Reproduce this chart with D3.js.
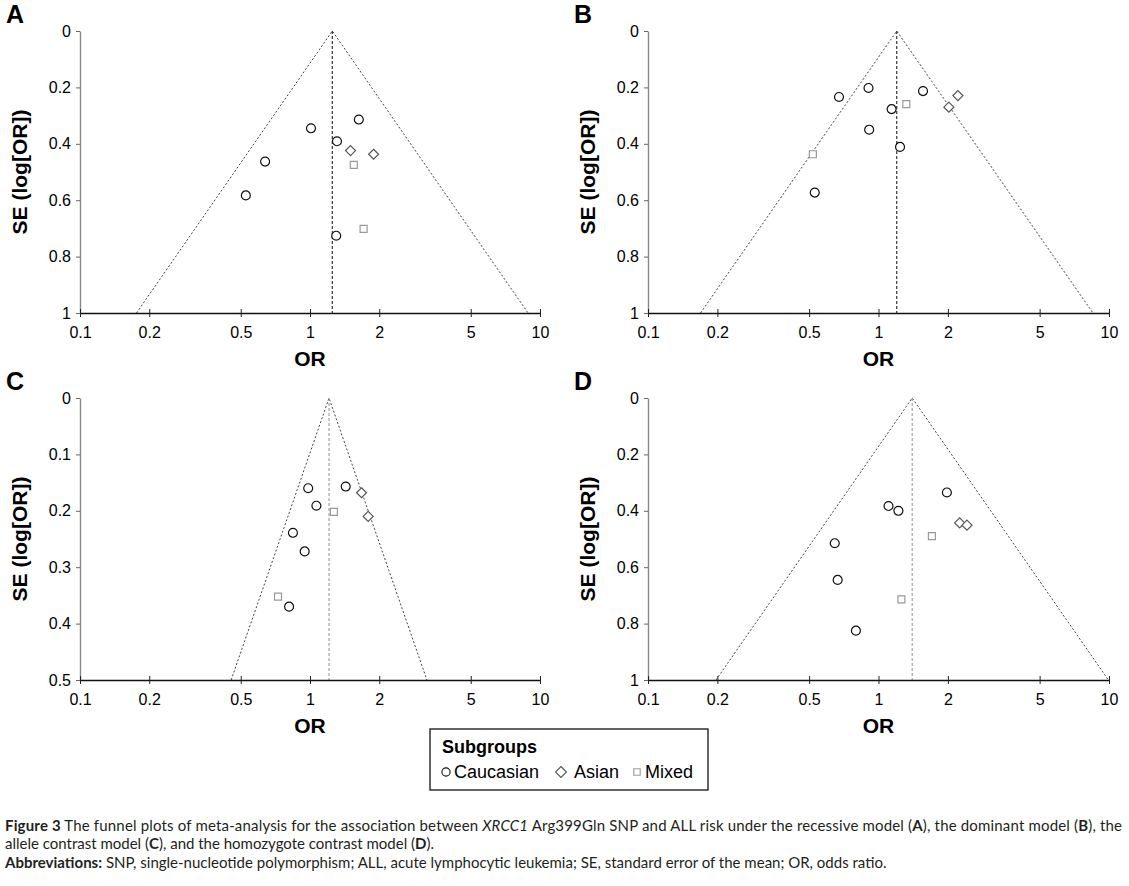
<!DOCTYPE html>
<html>
<head>
<meta charset="utf-8">
<script src="https://cdnjs.cloudflare.com/ajax/libs/d3/7.8.5/d3.min.js"></script>
<style>
body { margin: 0; background: #fff; }
svg { display: block; font-family: Arial, "Liberation Sans", sans-serif; }
</style>
</head>
<body>
<svg id="fig" width="1129" height="886"></svg>
<script>
// values
var groups = ["Caucasian", "Asian", "Mixed"];
var xTicks = [0.1, 0.2, 0.5, 1, 2, 5, 10];
var xTickLabels = ["0.1", "0.2", "0.5", "1", "2", "5", "10"];
var yTicksFull = [0, 0.2, 0.4, 0.6, 0.8, 1];
var yTicksHalf = [0, 0.1, 0.2, 0.3, 0.4, 0.5];
var panelNames = ["A", "B", "C", "D"];
var pooledOR = [1.25, 1.20, 1.21, 1.40];
var seMax = [1, 1, 0.5, 1];

// A - recessive model
var orA = [1.63, 1.01, 1.31, 1.50, 1.89, 1.55, 0.638, 0.526, 1.71, 1.30];
var seA = [0.314, 0.345, 0.391, 0.424, 0.437, 0.475, 0.463, 0.583, 0.702, 0.726];
var grA = ["Caucasian", "Caucasian", "Caucasian", "Asian", "Asian", "Mixed", "Caucasian", "Caucasian", "Mixed", "Caucasian"];

// B - dominant model
var orB = [0.674, 0.905, 1.56, 2.21, 2.02, 1.32, 1.14, 0.911, 1.24, 0.519, 0.529];
var seB = [0.234, 0.202, 0.213, 0.229, 0.270, 0.259, 0.277, 0.350, 0.411, 0.437, 0.573];
var grB = ["Caucasian", "Caucasian", "Caucasian", "Asian", "Asian", "Mixed", "Caucasian", "Caucasian", "Caucasian", "Mixed", "Caucasian"];

// C - allele contrast model
var orC = [0.982, 1.43, 1.675, 1.066, 1.27, 1.79, 0.843, 0.948, 0.726, 0.811];
var seC = [0.160, 0.157, 0.168, 0.191, 0.202, 0.210, 0.239, 0.272, 0.352, 0.370];
var grC = ["Caucasian", "Caucasian", "Asian", "Caucasian", "Mixed", "Asian", "Caucasian", "Caucasian", "Mixed", "Caucasian"];

// D - homozygote contrast model
var orD = [1.98, 1.105, 1.22, 2.25, 2.42, 1.705, 0.646, 0.665, 1.257, 0.798];
var seD = [0.335, 0.383, 0.400, 0.443, 0.451, 0.490, 0.515, 0.645, 0.714, 0.825];
var grD = ["Caucasian", "Caucasian", "Caucasian", "Asian", "Asian", "Mixed", "Caucasian", "Caucasian", "Mixed", "Caucasian"];

var svg = d3.select("#fig");

// panel boxes (pixels)
var panels = [
  { left: 80,  right: 540,  top: 31,  bottom: 313, or: orA, se: seA, gr: grA, yt: yTicksFull, vline: "#222" },
  { left: 648, right: 1109, top: 31,  bottom: 313, or: orB, se: seB, gr: grB, yt: yTicksFull, vline: "#222" },
  { left: 80,  right: 540,  top: 398, bottom: 680, or: orC, se: seC, gr: grC, yt: yTicksHalf, vline: "#999" },
  { left: 648, right: 1109, top: 398, bottom: 680, or: orD, se: seD, gr: grD, yt: yTicksFull, vline: "#999" }
];

var markStyle = {
  Caucasian: { stroke: "#111" },
  Asian: { stroke: "#555" },
  Mixed: { stroke: "#999" }
};

function markPath(g, size) {
  if (g === "Asian") return "M0," + (-size) + "L" + size + ",0L0," + size + "L" + (-size) + ",0Z";
  if (g === "Mixed") { var s = size * 0.7; return "M" + (-s) + "," + (-s) + "H" + s + "V" + s + "H" + (-s) + "Z"; }
  return d3.symbol().type(d3.symbolCircle).size(Math.PI * size * size * 0.8)();
}

panels.forEach(function(p, i) {
  var x = d3.scaleLog().domain([0.1, 10]).range([p.left, p.right]);
  var y = d3.scaleLinear().domain([0, seMax[i]]).range([p.top, p.bottom]);
  var g = svg.append("g");

  // funnel
  var m = pooledOR[i];
  var funnel = [[m * Math.exp(-1.96 * seMax[i]), seMax[i]], [m, 0], [m * Math.exp(1.96 * seMax[i]), seMax[i]]];
  g.append("path")
    .attr("d", d3.line().x(function(d) { return x(d[0]); }).y(function(d) { return y(d[1]); })(funnel))
    .attr("fill", "none")
    .attr("stroke", "#444")
    .attr("stroke-width", 1)
    .attr("stroke-dasharray", "2,2");
  g.append("line")
    .attr("x1", x(m)).attr("x2", x(m))
    .attr("y1", y(0)).attr("y2", y(seMax[i]))
    .attr("stroke", p.vline)
    .attr("stroke-width", 1.1)
    .attr("stroke-dasharray", "3,2");

  // y axis
  var ya = g.append("g")
    .attr("transform", "translate(" + p.left + ",0)")
    .call(d3.axisLeft(y).tickValues(p.yt).tickSizeInner(4).tickSizeOuter(0).tickPadding(5)
      .tickFormat(function(d) { return d3.format("~g")(d); }));
  ya.select(".domain").attr("stroke", "#888").attr("stroke-width", 1.4);
  ya.selectAll(".tick line").attr("stroke", "#666");
  ya.selectAll(".tick text").attr("font-size", 16).attr("fill", "#000").attr("font-family", "Arial, 'Liberation Sans', sans-serif");

  // x axis
  var xa = g.append("g")
    .attr("transform", "translate(0," + p.bottom + ")")
    .call(d3.axisBottom(x).tickValues(xTicks).tickSizeOuter(0).tickPadding(8)
      .tickFormat(function(d, j) { return xTickLabels[j]; }));
  xa.select(".domain").attr("stroke", "#111").attr("stroke-width", 1.4);
  xa.selectAll(".tick line").attr("y1", -4).attr("y2", 4).attr("stroke", "#222");
  xa.selectAll(".tick text").attr("font-size", 16).attr("fill", "#000").attr("font-family", "Arial, 'Liberation Sans', sans-serif");

  // studies
  var pts = p.or.map(function(v, j) { return { or: v, se: p.se[j], g: p.gr[j] }; });
  g.selectAll(".study")
    .data(pts)
    .enter()
    .append("path")
    .attr("class", "study")
    .attr("transform", function(d) { return "translate(" + x(d.or) + "," + y(d.se) + ")"; })
    .attr("d", function(d) { return markPath(d.g, 5); })
    .attr("fill", "#fff")
    .attr("stroke", function(d) { return markStyle[d.g].stroke; })
    .attr("stroke-width", 1.2);

  // titles
  g.append("text")
    .attr("x", x(1))
    .attr("y", p.bottom + 53)
    .attr("text-anchor", "middle")
    .attr("font-size", 21)
    .attr("font-weight", "bold")
    .text("OR");
  g.append("text")
    .attr("transform", "translate(" + (p.left - 53) + "," + ((p.top + p.bottom) / 2) + ") rotate(-90)")
    .attr("text-anchor", "middle")
    .attr("font-size", 21)
    .attr("font-weight", "bold")
    .text("SE (log[OR])");
  g.append("text")
    .attr("x", p.left - 74)
    .attr("y", p.top - 8)
    .attr("font-size", 25)
    .attr("font-weight", "bold")
    .text(panelNames[i]);
});

// legend
var lg = svg.append("g");
lg.append("rect")
  .attr("x", 430).attr("y", 729).attr("width", 278).attr("height", 61)
  .attr("fill", "#fff").attr("stroke", "#111").attr("stroke-width", 1.3);
lg.append("text")
  .attr("x", 442).attr("y", 753)
  .attr("font-size", 18).attr("font-weight", "bold")
  .text("Subgroups");
var legX = [446, 561, 637];
var legTextX = [454, 574, 645];
groups.forEach(function(gname, i) {
  lg.append("path")
    .attr("transform", "translate(" + legX[i] + ",772)")
    .attr("d", markPath(gname, gname === "Asian" ? 5.5 : 4.6))
    .attr("fill", "#fff")
    .attr("stroke", markStyle[gname].stroke)
    .attr("stroke-width", 1.1);
  lg.append("text")
    .attr("x", legTextX[i]).attr("y", 778)
    .attr("font-size", 18)
    .text(gname);
});

// caption (first line justified to the full width)
var capFont = "Lato, 'Open Sans', sans-serif";
var capLines = [
  { y: 831, len: 1117, parts: [["Figure 3", "b"], [" The funnel plots of meta-analysis for the association between ", ""], ["XRCC1", "i"], [" Arg399Gln SNP and ALL risk under the recessive model (", ""], ["A", "b"], ["), the dominant model (", ""], ["B", "b"], ["), the", ""]] },
  { y: 849, len: null, parts: [["allele contrast model (", ""], ["C", "b"], ["), and the homozygote contrast model (", ""], ["D", "b"], [").", ""]] },
  { y: 868, len: null, parts: [["Abbreviations:", "b"], [" SNP, single-nucleotide polymorphism; ALL, acute lymphocytic leukemia; SE, standard error of the mean; OR, odds ratio.", ""]] }
];
capLines.forEach(function(line) {
  var t = svg.append("text")
    .attr("x", 5).attr("y", line.y)
    .attr("font-family", capFont)
    .attr("font-size", 15)
    .attr("fill", "#231f20")
    .style("white-space", "pre");
  if (line.len) t.attr("textLength", line.len).attr("lengthAdjust", "spacing");
  line.parts.forEach(function(pt) {
    t.append("tspan")
      .attr("font-weight", pt[1] === "b" ? "bold" : null)
      .attr("font-style", pt[1] === "i" ? "italic" : null)
      .text(pt[0]);
  });
});
</script>
</body>
</html>
